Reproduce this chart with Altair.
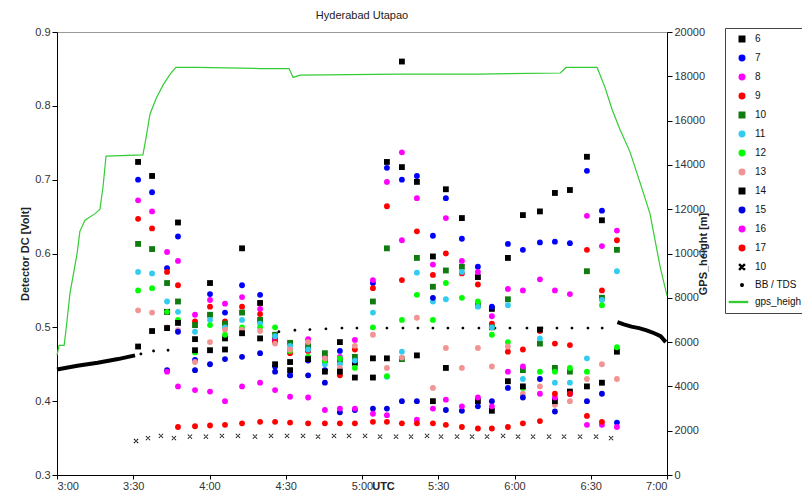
import altair as alt
import pandas as pd

# minutes after 3:00 UTC for each measurement cycle
TIMES = [31.9, 37.4, 43.3, 47.6, 54.3, 60.2, 66.1, 72.8, 79.9, 85.8, 91.7, 98.8,
         105.4, 111.3, 117.2, 124.3, 129.8, 135.7, 141.6, 147.9, 153.0, 159.3,
         165.6, 171.1, 177.4, 183.3, 190.0, 195.9, 201.8, 208.5, 214.4, 220.3]

S6 = [0.724, 0.705, 0.521, 0.642, 0.484, 0.560, 0.485, 0.607, 0.533, 0.483, 0.453, 0.470, 0.456, 0.480, 0.452, 0.458,
      0.724, 0.860, 0.697, 0.596, 0.687, 0.648, 0.568, 0.525, 0.594, 0.652, 0.657, 0.682, 0.686, 0.731, 0.645, 0.467]
S7 = [0.700, 0.683, 0.580, 0.623, 0.456, 0.545, 0.520, 0.557, 0.544, 0.447, 0.435, 0.455, 0.442, 0.468, 0.455, 0.560,
      0.716, 0.700, 0.705, 0.624, 0.675, 0.620, 0.582, 0.528, 0.613, 0.605, 0.615, 0.616, 0.614, 0.712, 0.658, 0.371]
S8 = [0.672, 0.657, 0.602, 0.590, 0.517, 0.537, 0.532, 0.541, 0.525, 0.483, 0.470, 0.484, 0.460, 0.460, 0.483, 0.564,
      0.697, 0.737, 0.675, 0.585, 0.648, 0.590, 0.575, 0.515, 0.552, 0.550, 0.565, 0.550, 0.545, 0.651, 0.610, 0.631]
S9 = [0.647, 0.634, 0.575, 0.557, 0.508, 0.528, 0.508, 0.528, 0.518, 0.480, 0.465, 0.468, 0.455, 0.435, 0.470, 0.553,
      0.664, 0.564, 0.630, 0.571, 0.600, 0.573, 0.558, 0.505, 0.467, 0.470, 0.495, 0.478, 0.476, 0.605, 0.550, 0.618]
S10 = [0.613, 0.606, 0.560, 0.535, 0.503, 0.517, 0.505, 0.520, 0.510, 0.490, 0.479, 0.475, 0.465, 0.455, 0.460, 0.535,
       0.607, 0.457, 0.594, 0.555, 0.577, 0.582, 0.530, 0.500, 0.538, 0.442, 0.478, 0.445, 0.440, 0.576, 0.540, 0.605]
S11 = [0.575, 0.573, 0.535, 0.521, 0.494, 0.510, 0.500, 0.510, 0.505, 0.488, 0.475, 0.470, 0.450, 0.450, 0.455, 0.520,
       0.433, 0.467, 0.574, 0.535, 0.538, 0.575, 0.528, 0.500, 0.530, 0.430, 0.485, 0.425, 0.425, 0.458, 0.537, 0.576]
S12 = [0.550, 0.553, 0.521, 0.510, 0.466, 0.503, 0.490, 0.500, 0.500, 0.500, 0.468, 0.460, 0.455, 0.458, 0.445, 0.500,
       0.434, 0.510, 0.544, 0.510, 0.560, 0.540, 0.535, 0.490, 0.480, 0.418, 0.440, 0.440, 0.445, 0.440, 0.530, 0.473]
S13 = [0.523, 0.520, 0.500, 0.496, 0.453, 0.480, 0.497, 0.497, 0.495, 0.478, 0.470, 0.480, 0.458, 0.445, 0.475, 0.490,
       0.445, 0.459, 0.513, 0.418, 0.472, 0.445, 0.472, 0.447, 0.474, 0.410, 0.420, 0.395, 0.400, 0.430, 0.450, 0.430]
S14 = [0.474, 0.495, 0.499, 0.506, 0.469, 0.469, 0.470, 0.492, 0.485, 0.450, 0.442, 0.457, 0.440, 0.440, 0.432, 0.432,
       0.458, 0.717, 0.462, 0.400, 0.445, None, 0.400, 0.387, 0.427, 0.420, 0.497, 0.400, 0.413, 0.420, 0.425, None]
S15 = [None, None, 0.442, 0.494, 0.442, 0.450, 0.457, 0.460, 0.465, 0.440, 0.435, 0.435, 0.425, 0.385, 0.388, 0.390,
       0.390, 0.400, 0.400, 0.540, 0.388, 0.387, 0.393, 0.400, 0.418, 0.405, 0.430, 0.386, 0.410, 0.400, 0.410, None]
S16 = [None, None, 0.440, 0.420, 0.415, 0.413, 0.400, 0.420, 0.425, 0.415, 0.406, 0.405, 0.388, 0.390, 0.390, 0.383,
       0.381, 0.618, 0.375, 0.390, 0.402, 0.393, 0.405, 0.393, 0.440, 0.447, 0.410, 0.405, 0.410, 0.368, 0.368, 0.365]
S17 = [None, None, None, 0.365, 0.366, 0.367, 0.368, 0.370, 0.372, 0.372, 0.371, 0.370, 0.370, 0.370, 0.370, 0.372,
       0.372, 0.370, 0.370, 0.370, 0.368, 0.365, 0.363, 0.363, 0.365, 0.370, 0.373, 0.410, 0.410, 0.380, 0.372, None]

# "10" cross markers
XMARK_T = [31.1, 35.8, 40.9, 46.0, 52.3, 58.6, 64.9, 71.2, 77.9, 84.2, 90.5, 96.8, 102.7, 109.0, 114.9, 121.2,
           127.1, 133.4, 139.3, 145.6, 151.1, 157.4, 163.3, 169.2, 175.5, 181.4, 187.3, 193.6, 199.5, 205.8, 212.1, 218.0]
XMARK_V = [0.346, 0.350, 0.353, 0.350, 0.352, 0.352, 0.353, 0.353, 0.352, 0.353, 0.353, 0.353, 0.352, 0.353, 0.353, 0.353,
           0.352, 0.352, 0.352, 0.353, 0.352, 0.352, 0.352, 0.352, 0.353, 0.352, 0.352, 0.352, 0.352, 0.352, 0.352, 0.350]

# BB / TDS
BB_T = [33.0, 38.0, 43.7, 87.3, 93.6, 99.5, 105.8, 112.1, 118.0, 123.9, 129.8, 136.1, 142.0, 147.9, 153.8,
        159.7, 166.0, 172.3, 178.2, 184.9, 190.8, 196.7, 202.6, 208.9, 214.5]
BB_V = [0.464, 0.468, 0.469, 0.494, 0.496, 0.497, 0.498, 0.499, 0.499, 0.499, 0.499, 0.499, 0.499, 0.499, 0.499,
        0.499, 0.499, 0.499, 0.499, 0.499, 0.499, 0.499, 0.499, 0.499, 0.499]
BB_START_T = [0.0, 8.0, 16.0, 24.0, 30.7]
BB_START_V = [0.443, 0.448, 0.452, 0.457, 0.462]
BB_END_T = [220.5, 223.0, 226.0, 229.0, 232.0, 235.0, 237.5, 239.5]
BB_END_V = [0.507, 0.504, 0.501, 0.499, 0.496, 0.492, 0.488, 0.480]

# GPS height [m]
GPS_T = [0.0, 0.8, 2.8, 3.5, 5.1, 7.9, 9.0, 11.0, 15.0, 16.9, 18.1, 19.3, 33.8, 35.0, 36.6, 39.0, 41.7, 44.5, 46.8,
         54.7, 80.0, 91.3, 92.9, 95.6, 135.0, 166.4, 198.0, 200.3, 212.5, 215.6, 218.4, 221.5, 225.4, 229.4,
         233.3, 237.3, 240.0]
GPS_H = [5400, 5850, 5850, 6500, 8200, 10000, 11000, 11500, 11800, 12000, 13000, 14400, 14450, 15200, 16300, 17000,
         17600, 18100, 18400, 18400, 18350, 18350, 17950, 18050, 18100, 18100, 18150, 18400, 18400, 17500, 16500,
         15600, 14600, 13200, 11800, 9400, 8100]

SERIES = {"6": S6, "7": S7, "8": S8, "9": S9, "10": S10, "11": S11, "12": S12, "13": S13,
          "14": S14, "15": S15, "16": S16, "17": S17}

DOMAIN = ["6", "7", "8", "9", "10", "11", "12", "13", "14", "15", "16", "17", "10 ", "BB / TDS", "gps_heigh"]
COLORS = ["#000000", "#0000ff", "#ff00ff", "#ff0000", "#107c10", "#33ccf0", "#00ff00", "#f29494",
          "#000000", "#0000e0", "#ff00ff", "#ff0000", "#000000", "#000000", "#33cc33"]
XPATH = "M-1,-0.75L-0.75,-1L1,0.75L0.75,1Z M1,-0.75L0.75,-1L-1,0.75L-0.75,1Z"
DOTPATH = "M-0.45,0A0.45,0.45 0 1,0 0.45,0A0.45,0.45 0 1,0 -0.45,0Z"
LINEPATH = "M-4.6,-0.15H2V0.15H-4.6Z"
SHAPES = ["square", "circle", "circle", "circle", "square", "circle", "circle", "circle",
          "square", "circle", "circle", "circle", XPATH, DOTPATH, LINEPATH]

rows = []
for name, vals in SERIES.items():
    for t, v in zip(TIMES, vals):
        if v is not None:
            rows.append({"t": t, "v": v, "series": name})
df_pts = pd.DataFrame(rows)
df_x = pd.DataFrame({"t": XMARK_T, "v": XMARK_V, "series": "10 "})
df_bb = pd.DataFrame({"t": BB_T, "v": BB_V, "series": "BB / TDS"})
df_bbline = pd.concat([
    pd.DataFrame({"t": BB_START_T, "v": BB_START_V, "seg": "a"}),
    pd.DataFrame({"t": BB_END_T, "v": BB_END_V, "seg": "b"}),
])
df_gps = pd.DataFrame({"t": GPS_T, "h": GPS_H, "series": "gps_heigh"})

FONT = "Liberation Sans"

legend = alt.Legend(
    title=None, orient="none", legendX=668, legendY=-4,
    strokeColor="#444", fillColor="white", padding=6, symbolOffset=6,
    labelOffset=8, rowPadding=7, symbolSize=30, labelFont=FONT, labelFontSize=10,
    labelColor="#111", labelLimit=200,
)
color = alt.Color("series:N", scale=alt.Scale(domain=DOMAIN, range=COLORS), legend=legend)
shape = alt.Shape("series:N", scale=alt.Scale(domain=DOMAIN, range=SHAPES), legend=legend)

xenc = alt.X("t:Q", scale=alt.Scale(domain=[0, 240], nice=False, zero=False),
             axis=alt.Axis(values=list(range(0, 241, 30)),
                           labelExpr="(floor(datum.value/60)+3) + ':' + (datum.value % 60 == 0 ? '00' : '30')",
                           title="UTC", titleX=326, titleY=5, titleBaseline="top",
                           tickSize=4, labelPadding=1, grid=False))
yenc = alt.Y("v:Q", scale=alt.Scale(domain=[0.3, 0.9], nice=False, zero=False),
             axis=alt.Axis(values=[0.3, 0.4, 0.5, 0.6, 0.7, 0.8, 0.9], format=".1f",
                           title="Detector DC [Volt]", tickSize=5, grid=False))

pts = alt.Chart(df_pts).mark_point(filled=True, size=34, opacity=1).encode(
    x=xenc, y=yenc, color=color, shape=shape)
xm = alt.Chart(df_x).mark_point(filled=True, size=24, opacity=1).encode(
    x=xenc, y=yenc, color=color, shape=shape)
bb = alt.Chart(df_bb).mark_point(filled=True, size=40, opacity=1).encode(
    x=xenc, y=yenc, color=color, shape=shape)
bbline = alt.Chart(df_bbline).mark_line(strokeWidth=4, color="black").encode(
    x=xenc, y=yenc, detail="seg:N")

left = alt.layer(bbline, bb, xm, pts)

gps = alt.Chart(df_gps).mark_line(strokeWidth=1.2).encode(
    x=xenc,
    y=alt.Y("h:Q", scale=alt.Scale(domain=[0, 20000], nice=False),
            axis=alt.Axis(orient="right", values=list(range(0, 20001, 2000)), format="d",
                          title="GPS_height [m]", titleAngle=270, tickSize=5, grid=False)),
    color=color,
)

chart = alt.layer(gps, left).resolve_scale(y="independent").properties(
    width=610, height=443,
    title=alt.TitleParams("Hyderabad Utapao", fontSize=11, fontWeight="normal", font=FONT,
                          color="#222", anchor="middle", offset=5),
    autosize=alt.AutoSizeParams(type="none"),
    padding={"left": 49, "top": 24, "right": 135, "bottom": 19},
).configure_view(stroke="#999").configure_axis(
    labelFont=FONT, labelFontSize=11, labelColor="#333", titleFont=FONT, titleFontSize=11,
    titleFontWeight="bold", titleColor="#222", domainColor="black", tickColor="black",
)

chart.save("out.html", embed_options={"renderer": "svg", "actions": False})
